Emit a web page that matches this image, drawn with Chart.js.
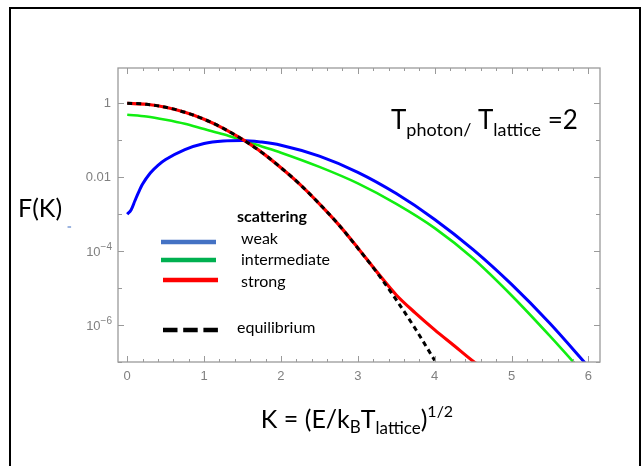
<!DOCTYPE html>
<html>
<head>
<meta charset="utf-8">
<script src="https://cdn.jsdelivr.net/npm/chart.js@4.4.1/dist/chart.umd.min.js"></script>
<style>
  html, body { margin: 0; padding: 0; background: #fff; }
  #wrap { width: 643px; height: 466px; position: relative; }
</style>
</head>
<body>
<div id="wrap"><canvas id="chart" width="643" height="466"></canvas></div>
<script>
// values, F(K) on a log axis
const kEq = [0, 0.25, 0.5, 0.75, 1, 1.25, 1.5, 1.75, 2, 2.25, 2.5, 2.75, 3, 3.25, 3.5, 3.75, 4]
const fEq = [1, 0.94, 0.78, 0.57, 0.37, 0.21, 0.105, 0.047, 0.018, 6.3e-3, 1.9e-3, 5.2e-4, 1.2e-4, 2.6e-5, 4.8e-6, 7.8e-7, 1.1e-7]

const kStrong = [0, 0.25, 0.5, 0.75, 1, 1.25, 1.5, 1.75, 2, 2.25, 2.5, 2.75, 3, 3.25, 3.5, 3.75, 4, 4.25, 4.5, 4.6]
const fStrong = [1, 0.94, 0.78, 0.57, 0.37, 0.21, 0.105, 0.047, 0.018, 6.3e-3, 1.9e-3, 5.2e-4, 1.22e-4, 2.7e-5, 6.5e-6, 2.1e-6, 7.4e-7, 2.8e-7, 1.05e-7, 7.5e-8]

const kInter = [0, 0.25, 0.5, 0.75, 1, 1.25, 1.5, 1.75, 2, 2.5, 3, 3.5, 4, 4.5, 5, 5.5, 6]
const fInter = [0.49, 0.44, 0.36, 0.28, 0.20, 0.145, 0.10, 0.068, 0.046, 0.019, 6.8e-3, 1.9e-3, 4.2e-4, 6.3e-5, 6.3e-6, 5e-7, 3.5e-8]

const kWeak = [0, 0.05, 0.1, 0.15, 0.2, 0.3, 0.4, 0.5, 0.75, 1, 1.25, 1.5, 1.75, 2, 2.5, 3, 3.5, 4, 4.5, 5, 5.5, 6]
const fWeak = [1.0e-3, 1.3e-3, 2.3e-3, 4.0e-3, 6.5e-3, 1.3e-2, 2.1e-2, 3.0e-2, 5.6e-2, 8.2e-2, 9.6e-2, 0.099, 0.089, 0.073, 0.037, 0.0135, 3.6e-3, 7.2e-4, 1.1e-4, 1.26e-5, 1.1e-6, 7.4e-8]

const xTicks = [0, 1, 2, 3, 4, 5, 6]
const yDecades = [1e-7, 1e-6, 1e-5, 1e-4, 1e-3, 0.01, 0.1, 1]
const yPlainLabels = { '1': '1', '0.01': '0.01' }
const yPowerLabels = [[1e-4, '\u22124'], [1e-6, '\u22126']]

const pts = (ks, fs) => ks.map((k, i) => ({ x: k, y: fs[i] }))

function line(label, ks, fs, color, width, dash) {
  return {
    label,
    data: pts(ks, fs),
    borderColor: color,
    borderWidth: width,
    borderDash: dash || [],
    pointRadius: 0,
    cubicInterpolationMode: 'monotone',
    clip: 0,
  }
}

// draw a row of text pieces [text, size, dy, bold]
function runs(ctx, x, y, parts, align, family) {
  const fam = family || 'Lato'
  let w = 0
  parts.forEach(p => { ctx.font = (p[3] ? 'bold ' : '') + p[1] + 'px ' + fam; w += ctx.measureText(p[0]).width })
  let cx = align === 'center' ? x - w / 2 : align === 'right' ? x - w : x
  parts.forEach(p => {
    ctx.font = (p[3] ? 'bold ' : '') + p[1] + 'px ' + fam
    ctx.fillText(p[0], cx, y + (p[2] || 0))
    cx += ctx.measureText(p[0]).width
  })
}

const decor = {
  id: 'decor',
  afterDraw(chart) {
    const { ctx, chartArea: a, scales: { x, y } } = chart
    ctx.save()
    // outer black frame
    ctx.fillStyle = '#000'
    ctx.fillRect(9, 7, 632, 2)
    ctx.fillRect(9, 7, 2, 470)
    ctx.fillRect(639, 7, 2, 470)

    // plot frame and inward ticks
    ctx.strokeStyle = '#9a9a9a'
    ctx.lineWidth = 1.3
    ctx.strokeRect(a.left, a.top, a.right - a.left, a.bottom - a.top)
    ctx.lineWidth = 1
    ctx.beginPath()
    for (let i = 0; i <= 30; i++) {
      const px = Math.round(x.getPixelForValue(i / 5)) + 0.5
      const len = i % 5 ? 3 : 6
      ctx.moveTo(px, a.bottom); ctx.lineTo(px, a.bottom - len)
      ctx.moveTo(px, a.top); ctx.lineTo(px, a.top + len)
    }
    yDecades.forEach((v, i) => {
      const py = Math.round(y.getPixelForValue(v)) + 0.5
      const len = i % 2 ? 6 : 4
      ctx.moveTo(a.left, py); ctx.lineTo(a.left + len, py)
      ctx.moveTo(a.right, py); ctx.lineTo(a.right - len, py)
    })
    ctx.stroke()

    // power-of-ten tick labels with raised exponent
    ctx.fillStyle = '#808080'
    ctx.textBaseline = 'alphabetic'
    yPowerLabels.forEach(([v, ex]) => {
      const py = y.getPixelForValue(v)
      runs(ctx, a.left - 6, py + 5, [['10', 13], [ex, 10, -6]], 'right', 'Liberation Sans')
    })

    // axis titles
    ctx.fillStyle = '#000'
    runs(ctx, 18, 217, [['F(K)', 25]])
    runs(ctx, 357, 428, [['K = (E/k', 25], ['B', 17, 5], ['T', 25], ['lattice', 17, 6], [')', 25], ['1/2', 16, -11]], 'center')
    runs(ctx, 391, 129, [['T', 26], ['photon/', 18, 7], [' T', 26], ['lattice', 18, 7], [' =2', 26]])
    ctx.fillStyle = '#4472c4'
    ctx.font = 'bold 8px Lato'
    ctx.fillText('=', 67, 229)

    // hand legend
    ctx.fillStyle = '#000'
    runs(ctx, 237, 222, [['scattering', 16, 0, true]])
    runs(ctx, 241, 244, [['weak', 16]])
    runs(ctx, 241, 265, [['intermediate', 16]])
    runs(ctx, 241, 287, [['strong', 16]])
    runs(ctx, 237, 333, [['equilibrium', 16]])
    ctx.lineWidth = 4.5
    ctx.lineCap = 'butt'
    const leg = [[161, 216, 242, '#4472c4'], [161, 216, 260, '#00b050'], [163, 218, 280, '#ff0000']]
    leg.forEach(l => {
      ctx.strokeStyle = l[3]
      ctx.beginPath(); ctx.moveTo(l[0], l[2]); ctx.lineTo(l[1], l[2]); ctx.stroke()
    })
    ctx.strokeStyle = '#000'
    ctx.setLineDash([14.5, 5.7])
    ctx.beginPath(); ctx.moveTo(163, 330); ctx.lineTo(218, 330); ctx.stroke()
    ctx.restore()
  }
}

new Chart(document.getElementById('chart'), {
  type: 'line',
  data: {
    datasets: [
      line('equilibrium', kEq, fEq, '#000000', 3, [5, 4]),
      line('strong', kStrong, fStrong, '#ff0000', 3.2),
      line('weak', kWeak, fWeak, '#0000ff', 3),
      line('intermediate', kInter, fInter, '#11ee11', 2.6),
    ]
  },
  options: {
    responsive: false,
    animation: false,
    layout: { padding: { top: 68, right: 43, left: 0, bottom: 0 } },
    plugins: { legend: { display: false }, tooltip: { enabled: false } },
    scales: {
      x: {
        type: 'linear',
        min: -0.12,
        max: 6.15,
        afterBuildTicks: s => { s.ticks = xTicks.map(v => ({ value: v })) },
        afterFit: s => { s.height = 104 },
        grid: { display: false, drawTicks: false },
        border: { display: false },
        ticks: { color: '#808080', font: { size: 13, family: 'Liberation Sans' }, padding: 7, maxRotation: 0 },
      },
      y: {
        type: 'logarithmic',
        min: 1e-7,
        max: 9,
        afterBuildTicks: s => { s.ticks = yDecades.map(v => ({ value: v })) },
        afterFit: s => { s.width = 118 },
        grid: { display: false, drawTicks: false },
        border: { display: false },
        ticks: {
          color: '#808080',
          font: { size: 13, family: 'Liberation Sans' },
          padding: 7,
          autoSkip: false,
          callback: v => yPlainLabels[String(v)] || '',
        },
      }
    }
  },
  plugins: [decor]
})
</script>
</body>
</html>
